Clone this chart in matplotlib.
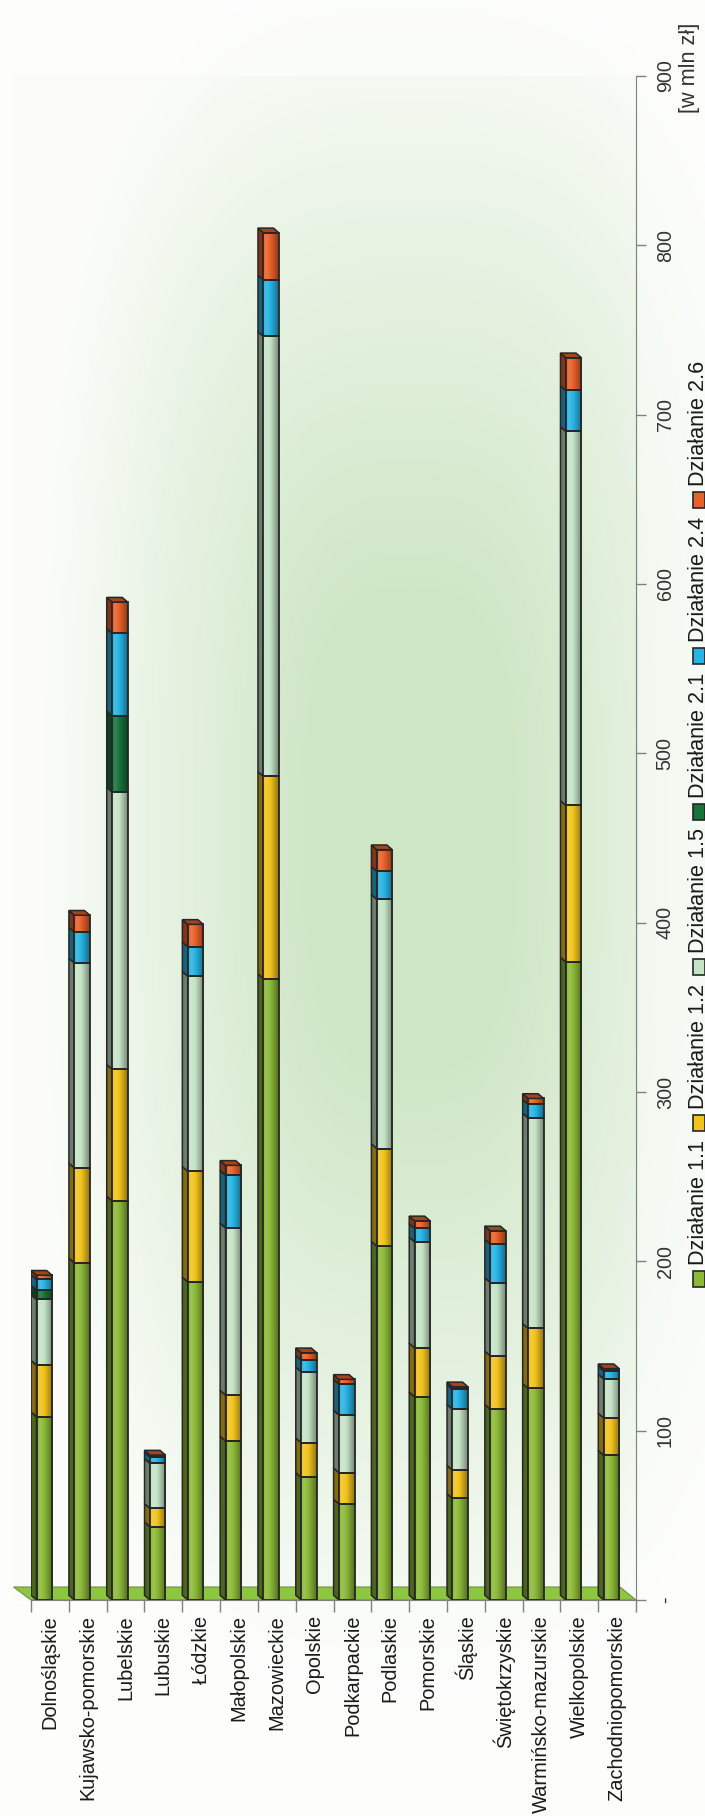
import numpy as np
import matplotlib
matplotlib.use('Agg')
import matplotlib.pyplot as plt
from matplotlib import font_manager
from matplotlib.patches import Polygon, Rectangle
from matplotlib.colors import to_rgb

plt.rcParams['font.family'] = ['Liberation Sans', 'DejaVu Sans']

# regions (categories) and stacked values [w mln zł]
categories = ['Dolnośląskie', 'Kujawsko-pomorskie', 'Lubelskie', 'Lubuskie', 'Łódzkie',
              'Małopolskie', 'Mazowieckie', 'Opolskie', 'Podkarpackie', 'Podlaskie',
              'Pomorskie', 'Śląskie', 'Świętokrzyskie', 'Warmińsko-mazurskie',
              'Wielkopolskie', 'Zachodniopomorskie']
d11 = [108.2, 199.1, 235.7, 43.3, 187.9, 93.9, 367.0, 72.4, 56.7, 209.0, 120.0, 60.0, 112.7, 125.0, 376.8, 85.5]
d12 = [30.5, 56.1, 77.8, 10.8, 65.3, 27.1, 119.4, 20.5, 18.5, 57.6, 28.9, 16.7, 31.5, 35.4, 92.5, 22.0]
d15 = [38.8, 121.0, 163.7, 26.6, 115.2, 98.7, 259.8, 41.9, 34.0, 147.2, 62.6, 36.0, 43.3, 124.3, 220.8, 23.0]
d21 = [5.5, 0, 45.0, 0, 0, 0, 0, 0, 0, 0, 0, 0, 0, 0, 0, 0]
d24 = [6.3, 18.2, 48.8, 3.7, 17.3, 31.2, 33.4, 6.9, 18.3, 16.5, 7.9, 11.7, 22.7, 8.1, 24.2, 4.8]
d26 = [2.5, 10.0, 18.3, 1.2, 13.3, 5.8, 27.8, 4.3, 2.8, 12.8, 4.5, 1.5, 7.8, 3.4, 19.3, 1.3]
series_names = ['Działanie 1.1', 'Działanie 1.2', 'Działanie 1.5', 'Działanie 2.1', 'Działanie 2.4', 'Działanie 2.6']
series = [d11, d12, d15, d21, d24, d26]
colors = ['#8cba38', '#f2c31d', '#c5e4c6', '#17733a', '#27b4e4', '#e8612a']
yticks = list(range(0, 1000, 100))
ytick_labels = ['-'] + [str(v) for v in yticks[1:]]

W, H = 705, 1816
EDGE = '#262626'

# tick labels use a narrow face when one is installed
installed = {f.name for f in font_manager.fontManager.ttflist}
if 'Liberation Sans Narrow' in installed:
    tick_family, tick_size = ['Liberation Sans Narrow', 'DejaVu Sans'], 16.8
else:
    tick_family, tick_size = ['Liberation Sans', 'DejaVu Sans'], 14.2


def shade(c, f):
    c = np.array(to_rgb(c))
    if f >= 1:
        return np.clip(c + (1 - c) * (f - 1), 0, 1)
    return np.clip(c * f, 0, 1)


def face_gradient(c):
    t = np.linspace(0, 1, 40)
    f = np.interp(t, [0, 0.2, 0.5, 1.0], [1.0, 1.14, 0.97, 0.6])
    return np.array([[shade(c, v) for v in f]])


fig = plt.figure(figsize=(W / 100, H / 100), dpi=100)

# background gradient (wall darker in the middle, lighter outside the wall)
yy, xx = np.mgrid[0:H, 0:W]
u = (xx - 410) / 370
v = (yy - 830) / 860
d = (np.abs(u) ** 3 + np.abs(v) ** 3) ** (1 / 3)
t = np.clip((d - 0.28) / 0.72, 0, 1)
center = np.array([0.815, 0.905, 0.78])
edge = np.array([0.985, 0.99, 0.98])
img = center + (edge - center) * t[..., None]
outside = (xx < 13) | (xx > 637) | (yy < 76) | (yy > 1600)
img[outside] = img[outside] + (1 - img[outside]) * 0.5
bg = fig.add_axes([0, 0, 1, 1], zorder=-10)
bg.imshow(img, extent=(0, W, H, 0), aspect='auto')
bg.set_xlim(0, W)
bg.set_ylim(H, 0)
bg.axis('off')

ax = fig.add_axes([31 / W, 216 / H, 605 / W, 1524 / H])
ax.patch.set_visible(False)

n = len(categories)
px_x = n / 605
px_y = 900 / 1524
ox, oy = 5.4 * px_x, 4.7 * px_y
x_left = np.arange(n) + 5.5 / 37.8
bw = 15.5 / 37.8

# floor
floor = Polygon([(0, 0), (n, 0), (n - 16 * px_x, 13 * px_y), (-17.5 * px_x, 13 * px_y)],
                closed=True, facecolor='#8dc63f', edgecolor='#6f8f45', lw=0.8,
                clip_on=False, zorder=1)
ax.add_patch(floor)

bottom = np.zeros(n)
top_col = [None] * n
for vals, col in zip(series, colors):
    vals = np.array(vals, dtype=float)
    bars = ax.bar(x_left, vals, width=bw, bottom=bottom, align='edge',
                  color=col, edgecolor='none', zorder=3)
    for i, b in enumerate(bars):
        h = b.get_height()
        if h <= 0:
            continue
        x0, y0, w = b.get_x(), b.get_y(), b.get_width()
        y1 = y0 + h
        ax.imshow(face_gradient(col), extent=(x0, x0 + w, y0, y1), aspect='auto',
                  interpolation='bilinear', zorder=3.1)
        ax.add_patch(Polygon([(x0, y0), (x0, y1), (x0 - ox, y1 + oy), (x0 - ox, y0 + oy)],
                             closed=True, facecolor=shade(col, 0.55), edgecolor=EDGE,
                             lw=1.1, zorder=3.0))
        ax.add_patch(Rectangle((x0, y0), w, h, fill=False, edgecolor=EDGE, lw=1.3, zorder=3.2))
        top_col[i] = col
    bottom += vals

for i in range(n):
    x0, w, y1 = x_left[i], bw, bottom[i]
    ax.add_patch(Polygon([(x0, y1), (x0 + w, y1), (x0 + w - ox, y1 + oy), (x0 - ox, y1 + oy)],
                         closed=True, facecolor=shade(top_col[i], 0.7), edgecolor=EDGE,
                         lw=1.1, zorder=3.3))

ax.set_xlim(0, n)
ax.set_ylim(0, 900)
ax.spines['left'].set_visible(False)
ax.spines['top'].set_visible(False)
ax.spines['right'].set_color('#808080')
ax.spines['bottom'].set_color('#808080')

ax.yaxis.tick_right()
ax.set_yticks(yticks)
ax.set_yticklabels(ytick_labels, rotation=90, va='center', fontsize=tick_size,
                   color='#333333', family=tick_family)
ax.tick_params(axis='y', direction='out', length=7.2, width=1, color='#808080', pad=7)

ax.set_xticks(np.arange(n) + 0.5)
ax.set_xticklabels(categories, rotation=90, fontsize=14.4, color='#1a1a1a')
ax.set_xticks(np.arange(n + 1), minor=True)
ax.tick_params(axis='x', which='major', length=0, pad=10.8)
ax.tick_params(axis='x', which='minor', direction='out', length=8.6, width=1, color='#808080')

fig.text(689 / W, 1 - 113 / H, '[w mln zł]', rotation=90, ha='center', va='bottom',
         fontsize=15.6, color='#333333')

# legend, rotated like the rest of the chart
for k, (name, col) in enumerate(zip(series_names, colors)):
    yc = 1279 - 155.8 * k
    fig.add_artist(Rectangle((693 / W, 1 - (yc + 8) / H), 12 / W, 16 / H,
                             transform=fig.transFigure, facecolor=col, edgecolor=EDGE, lw=1.2))
    fig.text(688 / W, 1 - (yc - 14) / H, name, rotation=90, ha='left', va='bottom',
             fontsize=15.6, color='#1a1a1a')

fig.savefig('out.png', dpi=100)
